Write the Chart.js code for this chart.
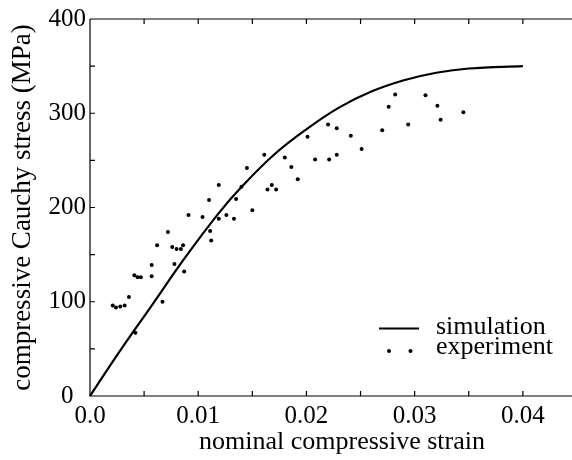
<!DOCTYPE html>
<html>
<head>
<meta charset="utf-8">
<script src="https://cdn.jsdelivr.net/npm/chart.js@4/dist/chart.umd.min.js"></script>
<style>
	html, body { margin: 0; padding: 0; background: #fff; overflow: hidden; }
</style>
</head>
<body>
<canvas id="stress-chart" width="572" height="460"></canvas>
<script>
// simulated stress-strain curve
const simStrain = [0, 0.0026, 0.0057, 0.0088, 0.0119, 0.0141, 0.017, 0.020, 0.023, 0.026, 0.029, 0.032, 0.035, 0.040];
const simStress = [0, 45, 96, 147, 194, 223, 256, 283, 306, 323, 335, 343, 347.5, 350];

// measured points
const expStrain = [
	0.0021, 0.0024, 0.0028, 0.0032, 0.0036, 0.0042, 0.0041, 0.0044, 0.0047, 0.0057,
	0.0057, 0.0062, 0.0067, 0.0072, 0.0076, 0.0078, 0.0080, 0.0084, 0.0086, 0.0087,
	0.0091, 0.0104, 0.0110, 0.0111, 0.0112, 0.0119, 0.0119, 0.0126, 0.0133, 0.0135,
	0.0140, 0.0150, 0.0145, 0.0161, 0.0164, 0.0168, 0.0172, 0.0180, 0.0186, 0.0192,
	0.0201, 0.0208, 0.0220, 0.0221, 0.0228, 0.0228, 0.0241, 0.0251, 0.0270, 0.0276,
	0.0282, 0.0294, 0.0310, 0.0321, 0.0324, 0.0345
];
const expStress = [
	96, 94, 95, 96, 105, 67, 128, 126, 126, 139,
	127, 160, 100, 174, 158, 140, 156, 156, 160, 132,
	192, 190, 208, 175, 165, 224, 188, 192, 188, 209,
	222, 197, 242, 256, 219, 224, 219, 253, 243, 230,
	275, 251, 288, 251, 284, 256, 276, 262, 282, 307,
	320, 288, 319, 308, 293, 301
];

const xTicks = [0, 0.005, 0.01, 0.015, 0.02, 0.025, 0.03, 0.035, 0.04];
const xTickLabels = ['0.0', '', '0.01', '', '0.02', '', '0.03', '', '0.04'];
const yTicks = [0, 50, 100, 150, 200, 250, 300, 350, 400];
const yTickLabels = ['0  ', '', '100', '', '200', '', '300', '', '400'];

const serif = '"Liberation Serif", "Times New Roman", serif';

// box lines, inward ticks and the legend
const framePlugin = {
	id: 'frame',
	afterDraw(chart) {
		const { ctx, chartArea: { left, top, bottom }, scales: { x, y } } = chart;
		const edge = chart.width;
		ctx.save();
		ctx.strokeStyle = '#000';
		ctx.lineWidth = 1.2;
		ctx.beginPath();
		ctx.moveTo(left, top);
		ctx.lineTo(edge, top);
		ctx.moveTo(left, top);
		ctx.lineTo(left, bottom);
		ctx.lineTo(edge, bottom);
		xTicks.forEach(v => {
			const px = x.getPixelForValue(v);
			ctx.moveTo(px, bottom);
			ctx.lineTo(px, bottom - 5);
			ctx.moveTo(px, top);
			ctx.lineTo(px, top + 5);
		});
		yTicks.forEach(v => {
			const py = y.getPixelForValue(v);
			ctx.moveTo(left, py);
			ctx.lineTo(left + 5, py);
		});
		ctx.stroke();

		ctx.lineWidth = 2.2;
		ctx.beginPath();
		ctx.moveTo(379, 328.5);
		ctx.lineTo(419, 328.5);
		ctx.stroke();

		ctx.fillStyle = '#000';
		[389, 410.5].forEach(px => {
			ctx.beginPath();
			ctx.arc(px, 351, 2, 0, Math.PI * 2);
			ctx.fill();
		});

		ctx.font = '26px ' + serif;
		ctx.textAlign = 'left';
		ctx.textBaseline = 'alphabetic';
		ctx.fillText('simulation', 436, 334);
		ctx.fillText('experiment', 436, 354);
		ctx.restore();
	},
};

const $chart = document.getElementById('stress-chart');

const config = {
	type: 'scatter',
	data: {
		datasets: [
			{
				label: 'simulation',
				type: 'line',
				data: simStrain.map((s, i) => ({ x: s, y: simStress[i] })),
				borderColor: '#000',
				borderWidth: 2.2,
				pointRadius: 0,
				tension: 0.4,
				fill: false,
				clip: false,
			},
			{
				label: 'experiment',
				data: expStrain.map((s, i) => ({ x: s, y: expStress[i] })),
				backgroundColor: '#000',
				borderWidth: 0,
				pointRadius: 2,
			},
		],
	},
	options: {
		responsive: false,
		animation: false,
		devicePixelRatio: 1,
		layout: { padding: { top: 19, left: 0, right: 0, bottom: 0 } },
		plugins: {
			legend: { display: false },
			tooltip: { enabled: false },
		},
		scales: {
			x: {
				type: 'linear',
				min: 0,
				max: 0.04417,
				grid: { display: false, drawTicks: false },
				border: { display: false },
				afterBuildTicks: scale => {
					scale.ticks = xTicks.map(value => ({ value }));
				},
				afterFit: scale => {
					scale.height = 64;
				},
				ticks: {
					color: '#000',
					font: { family: serif, size: 25 },
					padding: 5,
					maxRotation: 0,
					autoSkip: false,
					callback: (value, index) => xTickLabels[index],
				},
				title: {
					display: true,
					text: '    nominal compressive strain',
					color: '#000',
					font: { family: serif, size: 26 },
					padding: { top: 0, bottom: 2 },
				},
			},
			y: {
				min: 0,
				max: 400,
				grid: { display: false, drawTicks: false },
				border: { display: false },
				afterBuildTicks: scale => {
					scale.ticks = yTicks.map(value => ({ value }));
				},
				afterFit: scale => {
					scale.width = 90;
				},
				ticks: {
					color: '#000',
					font: { family: serif, size: 25 },
					padding: 4,
					autoSkip: false,
					callback: (value, index) => yTickLabels[index],
				},
				title: {
					display: true,
					text: 'compressive Cauchy stress (MPa)',
					color: '#000',
					font: { family: serif, size: 27 },
					padding: { top: 7, bottom: 0 },
				},
			},
		},
	},
	plugins: [framePlugin],
};

const stressChart = new Chart($chart, config);
</script>
</body>
</html>
